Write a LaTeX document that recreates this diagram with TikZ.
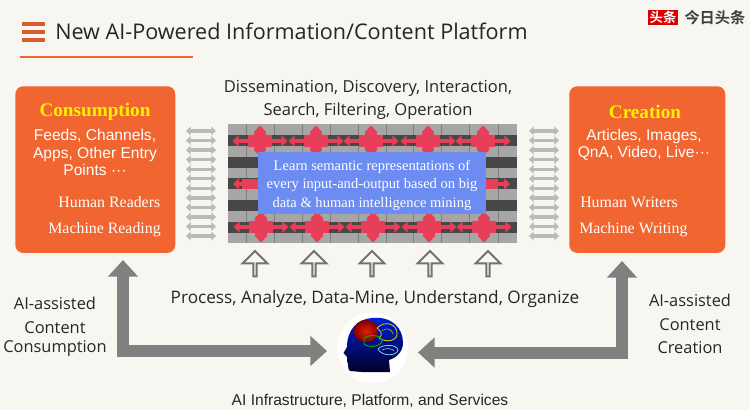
\documentclass[tikz,border=0pt]{standalone}
\usepackage{fontspec}
\setmainfont{Liberation Sans}
\newfontfamily\titlefont{Open Sans}
\newfontfamily\timesfont{Liberation Serif}
\newfontfamily\cjk{Noto Sans CJK SC}[BoldFont={Noto Sans CJK SC Bold}]
\usetikzlibrary{positioning, arrows.meta, shapes.arrows}
\definecolor{paper}{HTML}{F7F6F1}
\definecolor{boxorange}{HTML}{F16531}
\definecolor{crossred}{HTML}{E83E58}
\definecolor{midblue}{HTML}{6C8CF2}

\begin{document}
\begin{tikzpicture}[x=0.75pt,y=-0.75pt,
    box node/.style={fill=boxorange,rounded corners=6pt,anchor=north west,inner sep=0pt},
    head node/.style={text=yellow,font=\timesfont\bfseries\fontsize{14.4}{17}\selectfont},
    body node/.style={text=white,align=center,font=\fontsize{11.7}{13}\selectfont},
    serif node/.style={text=white,font=\timesfont\fontsize{11.9}{14}\selectfont},
    plain node/.style={text=black!85,align=center,inner sep=0pt,font=\titlefont\fontsize{12.3}{17.4}\selectfont},
    up node/.style={draw=black!55,fill=paper,line width=1.5pt,single arrow,rotate=90,minimum height=19pt,
        minimum width=18.5pt,single arrow head extend=5pt,single arrow tip angle=90,inner sep=0pt},
    big line/.style={draw=black!50,line width=9pt,{Triangle[length=12.5pt,width=22pt]}-{Triangle[length=12.5pt,width=22pt]}},
    gray line/.style={draw=black!27,line width=2.5pt,{Triangle[length=3.5pt,width=6.5pt]}-{Triangle[length=3.5pt,width=6.5pt]}},
    red line/.style={draw=crossred,line width=3.7pt,{Triangle[length=4.5pt,width=8.5pt]}-{Triangle[length=4.5pt,width=8.5pt]}},
    ]

\useasboundingbox (0,0) rectangle (750,410);
\fill[paper] (0,0) rectangle (750,410);

% header
\foreach \y in {22,30,38} \fill[boxorange!90!black] (22,\y) rectangle (44.5,\y+4);
\node[anchor=base west,inner sep=0pt,text=black!85,font=\titlefont\fontsize{16.2}{20}\selectfont] (title) at (55,40) {New AI-Powered Information/Content Platform};
\coordinate (rulea) at (20,57);
\coordinate (ruleb) at (193,57);
\draw[boxorange,line width=0.9pt] (rulea) -- (ruleb);

% logo
\node[fill=red!85!black,text=white,inner sep=0pt,minimum width=22.5pt,minimum height=11.5pt,font=\cjk\bfseries\fontsize{10}{11}\selectfont] (badge) at (663,17.5) {头条};
\node[right=4.5pt of badge,inner sep=0pt,text=black!75,font=\cjk\bfseries\fontsize{11.4}{12}\selectfont] (brand) {今日头条};

% side boxes
\node[box node,minimum width=120pt,minimum height=125pt] (consumption) at (15,86) {};
\node[box node,minimum width=117pt,minimum height=125pt] (creation) at (569,86) {};
\node[head node] (conshead) at (95,112) {Consumption};
\node[body node] (conslist) at (95,152.5) {Feeds, Channels,\\Apps, Other Entry\\Points ···};
\node[serif node,anchor=base east,inner sep=0pt] (readers) at (160.5,207.5) {Human Readers};
\node[serif node,anchor=base east,inner sep=0pt] (reading) at (161,233.5) {Machine Reading};
\node[head node] (crehead) at (645,112) {Creation};
\node[body node] (crelist) at (644,144.5) {Articles, Images,\\QnA, Video, Live···};
\node[serif node,anchor=base west,inner sep=0pt] (writers) at (580,207.5) {Human Writers};
\node[serif node,anchor=base west,inner sep=0pt] (writing) at (579,233.5) {Machine Writing};

% centre grid
\fill[black!35] (228,124) rectangle (517,243);
\foreach \x in {246,274,302,330,358,386,413,441,469,498}
    \draw[black!50,line width=0.5pt] (\x,124) -- (\x,243);
\foreach \y in {135,157,178,200,222}
    \fill[black!72] (228,\y) rectangle (517,\y+11);

% red crosses
\foreach \i/\x/\y in {1/260/141,2/316/141,3/371/141,4/428/141,5/483/141,6/261/227,7/317/227,8/373/227,9/429/227,10/484/227} {
    \coordinate (cross\i) at (\x,\y);
    \fill[crossred] (\x-12,\y-6) rectangle (\x+12,\y+6);
    \fill[crossred] (\x-6,\y-10) rectangle (\x+6,\y+10);
    \draw[red line] ([xshift=-20.5pt]cross\i) -- ([xshift=20.5pt]cross\i);
    \draw[red line] ([yshift=11.5pt]cross\i) -- ([yshift=-11.5pt]cross\i);
}
\coordinate (midl) at (233,184);
\coordinate (midr) at (510,184);
\draw[red line,{Triangle[length=4.5pt,width=8.5pt]}-] (midl) -- (262,184);
\draw[red line,-{Triangle[length=4.5pt,width=8.5pt]}] (482,184) -- (midr);
\fill[crossred] (242,179) rectangle (258,189);
\fill[crossred] (486,179) rectangle (498,189);

\node[fill=midblue,anchor=north west,inner sep=0pt,minimum width=171pt,minimum height=46.5pt] (learnbox) at (258,152) {};
\node[text=white,align=center,font=\timesfont\fontsize{10.9}{13.9}\selectfont] (learn) at (372,185) {Learn semantic representations of\\every input-and-output based on big\\data \& human intelligence mining};

% side double arrows
\foreach \i in {0,...,11} {
    \coordinate (la\i) at (186,131+\i*9.55);
    \coordinate (lb\i) at (216,131+\i*9.55);
    \coordinate (ra\i) at (529,131+\i*9.55);
    \coordinate (rb\i) at (559,131+\i*9.55);
    \draw[gray line] (la\i) -- (lb\i);
    \draw[gray line] (ra\i) -- (rb\i);
}

% outline arrows
\foreach \x in {255,314,372,430,488}
    \node[up node] (up\x) at (\x,264.5) {};

% labels
\node[plain node,font=\titlefont\fontsize{12.4}{17.8}\selectfont] (topline) at (368,100) {Dissemination, Discovery, Interaction,\\Search, Filtering, Operation};
\node[plain node,font=\titlefont\fontsize{12.9}{15}\selectfont] (process) at (375,299) {Process, Analyze, Data-Mine, Understand, Organize};
\node[text=black!85,font=\fontsize{11.7}{14}\selectfont] (infra) at (370,401) {AI Infrastructure, Platform, and Services};
\node[plain node] (aileft) at (55,303.5) {AI-assisted};
\node[plain node] (contleft) at (55,328) {Content};
\node[plain node] (consleft) at (55,348) {Consumption};
\node[plain node] (airight) at (690,300) {AI-assisted};
\node[plain node] (contright) at (690,324.5) {Content};
\node[plain node] (creright) at (690,348) {Creation};

% brain
\node[circle,fill=white,inner sep=0pt,minimum size=53pt] (brain) at (372.5,348) {};
\shade[top color=blue!85!cyan!85!black,bottom color=black!85!blue]
    (343.5,353) -- (347,347) .. controls (347,330) and (357,319) .. (372,318)
    .. controls (392,316) and (403,328) .. (403,343)
    .. controls (403,352) and (396,358) .. (389,360) -- (390,372) -- (362,372) -- (350,371)
    .. controls (347,369) and (349,364) .. (347,361) -- (347,357) -- cycle;
\shade[inner color=red!75!orange!90!black,outer color=red!50!black] (366,331) ellipse (12.5 and 11);
\draw[yellow!70!olive,line width=0.6pt] (377,328) .. controls (385,320) and (397,324) .. (397,333)
    .. controls (398,341) and (386,343) .. (379,338) .. controls (384,333) and (380,331) .. (377,328);
\draw[yellow!60!olive,line width=0.4pt] (382,331) .. controls (386,327) and (392,329) .. (393,334);
\draw[green!70!black,line width=0.7pt] (364,338) .. controls (370,334) and (382,335) .. (382,341)
    .. controls (381,347) and (368,348) .. (364,344) -- cycle;
\draw[cyan!55!white,line width=0.6pt] (378,349) .. controls (382,344) and (397,344) .. (398,350)
    .. controls (397,356) and (382,357) .. (378,349);
\draw[cyan!35!white,line width=0.4pt] (382,350) .. controls (386,348) and (392,348) .. (394,351);

% big arrows
\coordinate (lefttip) at (123,260);
\coordinate (leftend) at (327,351);
\coordinate (righttip) at (622,261);
\coordinate (rightend) at (418,352.5);
\draw[big line] (lefttip) -- (lefttip |- leftend) -- (leftend);
\draw[big line] (righttip) -- (righttip |- rightend) -- (rightend);
\end{tikzpicture}
\end{document}
